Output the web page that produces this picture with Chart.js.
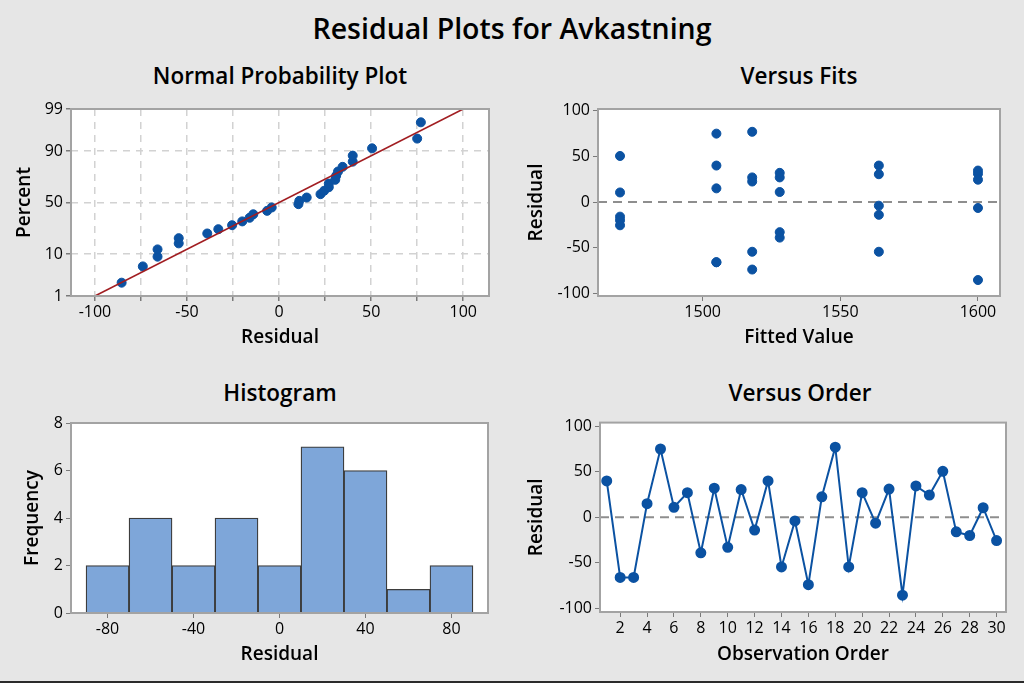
<!DOCTYPE html>
<html>
<head>
<meta charset="utf-8">
<script src="https://cdn.jsdelivr.net/npm/chart.js@4/dist/chart.umd.min.js"></script>
<style>
  body { margin: 0; width: 1024px; height: 683px; background: #e6e6e6; overflow: hidden; position: relative; font-family: "Open Sans", sans-serif; }
  .ttl { position: absolute; text-align: center; color: #000; white-space: nowrap; }
  .main { left: 0; width: 1024px; top: 8px; height: 40px; line-height: 40px; font-size: 28.5px; font-weight: 600; }
  .sub { height: 30px; line-height: 30px; font-size: 22.5px; font-weight: 600; width: 400px; }
  canvas { position: absolute; }
  .edge { position: absolute; left: 0; bottom: 0; width: 1024px; height: 2px; background: #2b2b2b; }
</style>
</head>
<body>
<div class="ttl main">Residual Plots for Avkastning</div>
<div class="ttl sub" style="left:80px; top:61px;">Normal Probability Plot</div>
<div class="ttl sub" style="left:599px; top:61px;">Versus Fits</div>
<div class="ttl sub" style="left:80px; top:378px;">Histogram</div>
<div class="ttl sub" style="left:600px; top:378px;">Versus Order</div>

<canvas id="cNormal" width="505" height="270" style="left:0; top:95px;"></canvas>
<canvas id="cFits" width="519" height="270" style="left:505px; top:95px;"></canvas>
<canvas id="cHist" width="505" height="273" style="left:0; top:410px;"></canvas>
<canvas id="cOrder" width="519" height="273" style="left:505px; top:410px;"></canvas>
<div class="edge"></div>

<script>
// ---- data ----
const observationOrder = [1, 2, 3, 4, 5, 6, 7, 8, 9, 10, 11, 12, 13, 14, 15, 16, 17, 18, 19, 20, 21, 22, 23, 24, 25, 26, 27, 28, 29, 30];
const residuals = [40, -66, -66, 15, 75, 11, 27, -39, 32, -33, 30.5, -14, 40, -54.5, -4, -74, 22.5, 77, -54.5, 27, -6.5, 31, -85.5, 34.5, 24.5, 50.5, -16, -20, 10.5, -25.5];
const fittedValues = [1505, 1505, 1505, 1505, 1505, 1528, 1528, 1528, 1528, 1528, 1564, 1564, 1564, 1564, 1564,
                      1518, 1518, 1518, 1518, 1518, 1600, 1600, 1600, 1600, 1600, 1470, 1470, 1470, 1470, 1470];
const histBinCenters = [-80, -60, -40, -20, 0, 20, 40, 60, 80];
const histCounts = [2, 4, 2, 4, 2, 7, 6, 1, 2];
const fitLineResidual = [-100, 100];
const fitLinePercent = [1, 99];

// tick labels
const percentTicks = [1, 10, 50, 90, 99];
const normalResidTicks = [-100, -75, -50, -25, 0, 25, 50, 75, 100];
const residTicks = [-100, -50, 0, 50, 100];
const fitsTicks = [1500, 1550, 1600];
const histXTicks = [-80, -40, 0, 40, 80];
const histYTicks = [0, 2, 4, 6, 8];
const orderTicks = [2, 4, 6, 8, 10, 12, 14, 16, 18, 20, 22, 24, 26, 28, 30];

const BLUE = '#0b52a2';
const FONT = '"Open Sans", sans-serif';

// inverse normal cdf (Acklam), used for the probability scale
function zFor(p) {
    const a = [-3.969683028665376e+01, 2.209460984245205e+02, -2.759285104469687e+02, 1.383577518672690e+02, -3.066479806614716e+01, 2.506628277459239e+00];
    const b = [-5.447609879822406e+01, 1.615858368580409e+02, -1.556989798598866e+02, 6.680131188771972e+01, -1.328068155288572e+01];
    const c = [-7.784894002430293e-03, -3.223964580411365e-01, -2.400758277161838e+00, -2.549732539343734e+00, 4.374664141464968e+00, 2.938163982698783e+00];
    const d = [7.784695709041462e-03, 3.224671290700398e-01, 2.445134137142996e+00, 3.754408661907416e+00];
    const lo = 0.02425;
    let q, r;
    if (p < lo) {
        q = Math.sqrt(-2 * Math.log(p));
        return (((((c[0]*q+c[1])*q+c[2])*q+c[3])*q+c[4])*q+c[5]) / ((((d[0]*q+d[1])*q+d[2])*q+d[3])*q+1);
    }
    if (p > 1 - lo) {
        q = Math.sqrt(-2 * Math.log(1 - p));
        return -(((((c[0]*q+c[1])*q+c[2])*q+c[3])*q+c[4])*q+c[5]) / ((((d[0]*q+d[1])*q+d[2])*q+d[3])*q+1);
    }
    q = p - 0.5; r = q * q;
    return (((((a[0]*r+a[1])*r+a[2])*r+a[3])*r+a[4])*r+a[5])*q / (((((b[0]*r+b[1])*r+b[2])*r+b[3])*r+b[4])*r+1);
}

// white plot area + grey frame
const framePlugin = {
    id: 'frame',
    beforeDraw(chart) {
        let a = chart.chartArea, ctx = chart.ctx;
        ctx.save();
        ctx.fillStyle = '#ffffff';
        ctx.fillRect(a.left, a.top, a.right - a.left, a.bottom - a.top);
        ctx.restore();
    },
    afterDraw(chart) {
        let a = chart.chartArea, ctx = chart.ctx;
        ctx.save();
        ctx.strokeStyle = '#a3a3a3';
        ctx.lineWidth = 2;
        ctx.strokeRect(a.left, a.top, a.right - a.left, a.bottom - a.top);
        ctx.restore();
    }
};

// dashed reference line at residual 0
const zeroLinePlugin = {
    id: 'zeroLine',
    beforeDatasetsDraw(chart) {
        let a = chart.chartArea, ctx = chart.ctx;
        let y = chart.scales.y.getPixelForValue(0);
        ctx.save();
        ctx.strokeStyle = '#8e8e8e';
        ctx.lineWidth = 2;
        ctx.setLineDash([9, 6]);
        ctx.beginPath();
        ctx.moveTo(a.left, y);
        ctx.lineTo(a.right, y);
        ctx.stroke();
        ctx.restore();
    }
};

function tickFont() { return { family: FONT, size: 16 }; }
function titleFont() { return { family: FONT, size: 19, weight: '600', lineHeight: 1.2 }; }

function xAxis(min, max, ticks, title, height, titleOffset, extra) {
    let ax = {
        type: 'linear', min: min, max: max, offset: false,
        afterBuildTicks: s => { s.ticks = ticks.map(v => ({ value: v })); },
        afterFit: s => { s.height = height; },
        ticks: { font: tickFont(), color: '#000', maxRotation: 0, autoSkip: false, padding: 2, callback: v => String(v) },
        grid: { drawOnChartArea: false, tickLength: 5, color: '#7a7a7a', offset: false },
        border: { display: false },
        title: { display: true, text: title, color: '#000', font: titleFont(), padding: { top: 0, bottom: titleOffset - 11.4 } }
    };
    return Object.assign(ax, extra || {});
}

function yAxis(min, max, ticks, title, width, titleOffset, extra) {
    let ax = {
        type: 'linear', min: min, max: max,
        afterBuildTicks: s => { s.ticks = ticks.map(v => ({ value: v })); },
        afterFit: s => { s.width = width; },
        ticks: { font: tickFont(), color: '#000', autoSkip: false, padding: 3, callback: v => String(v) },
        grid: { drawOnChartArea: false, tickLength: 5, color: '#7a7a7a' },
        border: { display: false },
        title: { display: true, text: title, color: '#000', font: titleFont(), padding: { top: titleOffset - 11.4, bottom: 0 } }
    };
    return Object.assign(ax, extra || {});
}

const baseOpts = {
    responsive: false,
    animation: false,
    plugins: { legend: { display: false }, tooltip: { enabled: false } }
};

// ---- Normal probability plot ----
let n = residuals.length;
let sortedRes = residuals.slice().sort((p, q) => p - q);
let probPoints = sortedRes.map((r, i) => ({ x: r, y: zFor((i + 1 - 0.3) / (n + 0.4)) }));
let fitLine = fitLineResidual.map((r, i) => ({ x: r, y: zFor(fitLinePercent[i] / 100) }));
let zTicks = percentTicks.map(p => zFor(p / 100));

new Chart(document.getElementById('cNormal'), {
    type: 'scatter',
    data: {
        datasets: [
            { data: fitLine, showLine: true, borderColor: '#a11d21', borderWidth: 1.6, pointRadius: 0 },
            { data: probPoints, backgroundColor: BLUE, borderColor: BLUE, pointRadius: 4.5 }
        ]
    },
    options: Object.assign({}, baseOpts, {
        layout: { padding: { top: 14, right: 16, left: 0, bottom: 0 } },
        scales: {
            x: xAxis(-113, 114, normalResidTicks, 'Residual', 69, 27, {
                ticks: { font: tickFont(), color: '#000', maxRotation: 0, autoSkip: false, padding: 2,
                         callback: v => (v % 50 === 0 ? String(v) : '') },
                grid: { drawOnChartArea: true, tickLength: 5, color: '#d2d2d2', lineWidth: 1.5, tickColor: '#7a7a7a' },
                border: { display: false, dash: [7, 6] }
            }),
            y: yAxis(zTicks[0], zTicks[4], zTicks, 'Percent', 71, 25, {
                ticks: { font: tickFont(), color: '#000', autoSkip: false, padding: 3,
                         callback: (v, i) => String(percentTicks[i]) },
                grid: { drawOnChartArea: true, tickLength: 5, color: '#d2d2d2', lineWidth: 1.5, tickColor: '#7a7a7a' },
                border: { display: false, dash: [7, 6] }
            })
        }
    }),
    plugins: [framePlugin]
});

// ---- Versus fits ----
new Chart(document.getElementById('cFits'), {
    type: 'scatter',
    data: {
        datasets: [{
            data: fittedValues.map((f, i) => ({ x: f, y: residuals[i] })),
            backgroundColor: BLUE, borderColor: BLUE, pointRadius: 4.5
        }]
    },
    options: Object.assign({}, baseOpts, {
        layout: { padding: { top: 14, right: 24, left: 0, bottom: 0 } },
        scales: {
            x: xAxis(1462, 1608, fitsTicks, 'Fitted Value', 69, 27),
            y: yAxis(-103, 102, residTicks, 'Residual', 93, 32)
        }
    }),
    plugins: [framePlugin, zeroLinePlugin]
});

// ---- Histogram ----
new Chart(document.getElementById('cHist'), {
    type: 'bar',
    data: {
        datasets: [{
            data: histBinCenters.map((c, i) => ({ x: c, y: histCounts[i] })),
            backgroundColor: '#7ea6d9', borderColor: '#3d3d3d', borderWidth: 1.3,
            barPercentage: 1, categoryPercentage: 1
        }]
    },
    options: Object.assign({}, baseOpts, {
        layout: { padding: { top: 13, right: 17, left: 0, bottom: 0 } },
        scales: {
            x: xAxis(-97, 97, histXTicks, 'Residual', 70, 28),
            y: yAxis(0, 8, histYTicks, 'Frequency', 71, 33)
        }
    }),
    plugins: [framePlugin]
});

// ---- Versus order ----
new Chart(document.getElementById('cOrder'), {
    type: 'scatter',
    data: {
        datasets: [{
            data: observationOrder.map((o, i) => ({ x: o, y: residuals[i] })),
            showLine: true, borderColor: BLUE, borderWidth: 2,
            backgroundColor: BLUE, pointRadius: 4.5
        }]
    },
    options: Object.assign({}, baseOpts, {
        layout: { padding: { top: 12, right: 18, left: 0, bottom: 0 } },
        scales: {
            x: xAxis(0.5, 30.7, orderTicks, 'Observation Order', 71, 28),
            y: yAxis(-104, 104, residTicks, 'Residual', 95, 32)
        }
    }),
    plugins: [framePlugin, zeroLinePlugin]
});
</script>
</body>
</html>
